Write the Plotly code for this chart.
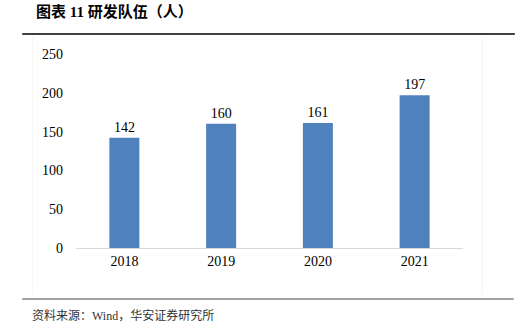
import plotly.graph_objects as go

years = ["2018", "2019", "2020", "2021"]
staff = [142, 160, 161, 197]
y_ticks = [0, 50, 100, 150, 200, 250]

serif = "Liberation Serif, Times New Roman, serif"
cjk = "Liberation Serif, Noto Sans CJK SC, serif"

fig = go.Figure(
    go.Bar(
        x=years,
        y=staff,
        marker=dict(color="#4F81BD", line=dict(width=0)),
        width=0.31,
        text=[str(v) for v in staff],
        textposition="outside",
        textfont=dict(family=serif, size=14, color="#000000"),
        cliponaxis=False,
    )
)

fig.update_layout(
    width=525,
    height=336,
    margin=dict(l=76, r=62, t=54, b=88),
    paper_bgcolor="white",
    plot_bgcolor="white",
    showlegend=False,
    font=dict(family=serif, size=14, color="#000000"),
    xaxis=dict(
        showgrid=False,
        showline=True,
        linecolor="#D9D9D9",
        linewidth=1,
        ticks="",
        tickfont=dict(family=serif, size=14),
    ),
    yaxis=dict(
        range=[0, 250],
        tickvals=y_ticks,
        showgrid=False,
        zeroline=False,
        showline=False,
        ticks="",
        ticklabelstandoff=12,
        tickfont=dict(family=serif, size=14),
    ),
    shapes=[
        dict(type="line", xref="paper", yref="paper",
             x0=-0.139, x1=1.134, y0=1.103, y1=1.103,
             line=dict(color="#000000", width=1.3)),
        dict(type="line", xref="paper", yref="paper",
             x0=-0.139, x1=1.131, y0=-0.263, y1=-0.263,
             line=dict(color="#444444", width=1)),
        dict(type="line", xref="paper", yref="paper",
             x0=-0.113, x1=-0.113, y0=-0.24, y1=1.09,
             line=dict(color="#F4F4F4", width=1)),
        dict(type="line", xref="paper", yref="paper",
             x0=1.05, x1=1.05, y0=-0.24, y1=1.09,
             line=dict(color="#F4F4F4", width=1)),
    ],
    annotations=[
        dict(text="<b>图表 11 研发队伍（人）</b>", xref="paper", yref="paper",
             x=-0.109, y=1.218, xanchor="left", yanchor="middle",
             showarrow=False, font=dict(family=cjk, size=15, color="#000000")),
        dict(text="资料来源：Wind，华安证券研究所", xref="paper", yref="paper",
             x=-0.119, y=-0.35, xanchor="left", yanchor="middle",
             showarrow=False, font=dict(family=cjk, size=12, color="#333333")),
    ],
)

fig.write_html("out.html")
